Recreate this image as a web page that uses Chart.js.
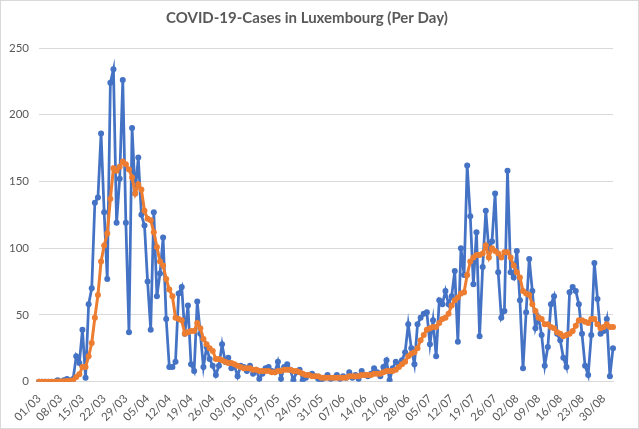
<!DOCTYPE html>
<html>
<head>
<meta charset="utf-8">
<script src="https://cdn.jsdelivr.net/npm/chart.js@4.4.1/dist/chart.umd.min.js"></script>
<style>
  html, body { margin: 0; padding: 0; background: #fff; }
  #wrap { width: 639px; height: 429px; box-sizing: border-box; border: 1px solid #d9d9d9; }
</style>
</head>
<body>
<div id="wrap"><canvas id="chart" width="637" height="427"></canvas></div>
<script>
// daily cases, 01/03 -> 02/09
const dailyCases = [
  0, 0, 0, 0, 0, 0, 1, 0, 1, 2, 1, 2, 19, 14, 39, 3, 58, 70, 134, 138,
  186, 127, 77, 224, 234, 119, 152, 226, 119, 37, 190, 141, 168, 125, 117, 75, 39, 127, 64, 81,
  108, 47, 11, 11, 15, 66, 71, 36, 57, 13, 8, 60, 36, 11, 26, 17, 12, 5, 12, 28,
  15, 18, 10, 12, 4, 12, 11, 8, 12, 6, 9, 2, 6, 10, 11, 8, 7, 15, 2, 11,
  13, 9, 1, 7, 9, 1, 3, 5, 6, 4, 2, 1, 3, 5, 2, 3, 5, 2, 4, 3,
  7, 3, 5, 2, 8, 5, 4, 6, 10, 7, 4, 11, 16, 1, 10, 15, 13, 16, 22, 43,
  25, 13, 43, 48, 51, 52, 28, 46, 19, 61, 58, 68, 58, 64, 83, 30, 100, 80, 162, 124,
  73, 112, 34, 86, 128, 98, 105, 141, 82, 48, 53, 158, 82, 78, 98, 61, 10, 52, 92, 68,
  40, 48, 35, 12, 26, 58, 64, 36, 31, 18, 11, 67, 71, 68, 58, 36, 12, 5, 35, 89,
  62, 36, 38, 47, 4, 25
];

// weekly average line (orange)
const avgCases = [
  0, 0, 0, 0, 0, 0, 0.1, 0.1, 0.3, 0.6, 0.7, 1, 3.6, 5.6, 11, 11, 19, 29, 48, 65,
  90, 102, 111, 137, 160, 158, 161, 165, 163, 159, 153, 141, 148, 144, 128, 122, 121, 112, 101, 90,
  87, 77, 69, 64, 48, 47, 46, 36, 37, 38, 38, 44, 40, 32, 28, 25, 23, 17, 17, 16,
  15, 14, 14, 13, 12, 11, 10, 10, 10, 9, 9, 8, 8, 8, 8, 7, 7, 8, 8, 9,
  9, 9, 8, 8, 7, 6, 5, 5, 4, 4, 4, 3, 3, 3, 3, 3, 3, 3, 3, 3,
  4, 4, 4, 4, 5, 5, 5, 5, 6, 6, 6, 7, 8, 8, 8, 9, 11, 13, 15, 19,
  21, 22, 25, 31, 35, 39, 40, 41, 41, 44, 47, 48, 51, 57, 61, 63, 66, 67, 80, 90,
  93, 95, 95, 96, 102, 93, 100, 98, 96, 93, 97, 97, 93, 87, 82, 78, 68, 66, 65, 58,
  53, 48, 47, 43, 43, 41, 40, 37, 36, 34, 35, 36, 38, 42, 46, 46, 45, 44, 47, 47,
  43, 40, 41, 43, 41, 41
];

const yTicks = [0, 50, 100, 150, 200, 250];

// one category per day, label shown every 7th day
const days = [];
const start = new Date(2020, 2, 1);
for (let i = 0; i < dailyCases.length; i++) {
  const d = new Date(start.getFullYear(), start.getMonth(), start.getDate() + i);
  const dd = String(d.getDate()).padStart(2, "0");
  const mm = String(d.getMonth() + 1).padStart(2, "0");
  days.push(dd + "/" + mm);
}

const grey = "#595959";
const font = "Lato, 'Open Sans', sans-serif";

new Chart(document.getElementById("chart"), {
  type: "line",
  data: {
    labels: days,
    datasets: [
      {
        label: "Average",
        data: avgCases,
        borderColor: "#ED7D31",
        backgroundColor: "#ED7D31",
        borderWidth: 3,
        pointRadius: 3,
        pointBorderWidth: 0,
        tension: 0,
        order: 1
      },
      {
        label: "Cases",
        data: dailyCases,
        borderColor: "#4472C4",
        backgroundColor: "#4472C4",
        borderWidth: 2.75,
        pointRadius: 3,
        pointBorderWidth: 0,
        tension: 0,
        order: 2
      }
    ]
  },
  options: {
    responsive: false,
    animation: false,
    devicePixelRatio: 1,
    layout: { padding: { left: 0, right: 25, bottom: 2, top: 0 } },
    plugins: {
      legend: { display: false },
      tooltip: { enabled: false },
      title: {
        display: true,
        text: "COVID-19-Cases in Luxembourg (Per Day)",
        color: grey,
        font: { family: font, size: 15, weight: "bold" },
        padding: { top: 8, bottom: 21 }
      }
    },
    scales: {
      x: {
        offset: false,
        grid: { display: false },
        border: { color: "#d9d9d9" },
        ticks: {
          autoSkip: false,
          minRotation: 45,
          maxRotation: 45,
          color: grey,
          font: { family: font, size: 11.5 },
          padding: 2,
          callback: function (val, idx) {
            return idx % 7 === 0 ? days[idx] : null;
          }
        }
      },
      y: {
        min: yTicks[0],
        max: yTicks[yTicks.length - 1],
        grid: { color: "#d9d9d9", drawTicks: false },
        border: { display: false },
        ticks: {
          stepSize: 50,
          color: grey,
          padding: 10,
          font: { family: font, size: 11.5 }
        },
        afterFit: function (scale) { scale.width = 38; }
      }
    }
  }
});
</script>
</body>
</html>
